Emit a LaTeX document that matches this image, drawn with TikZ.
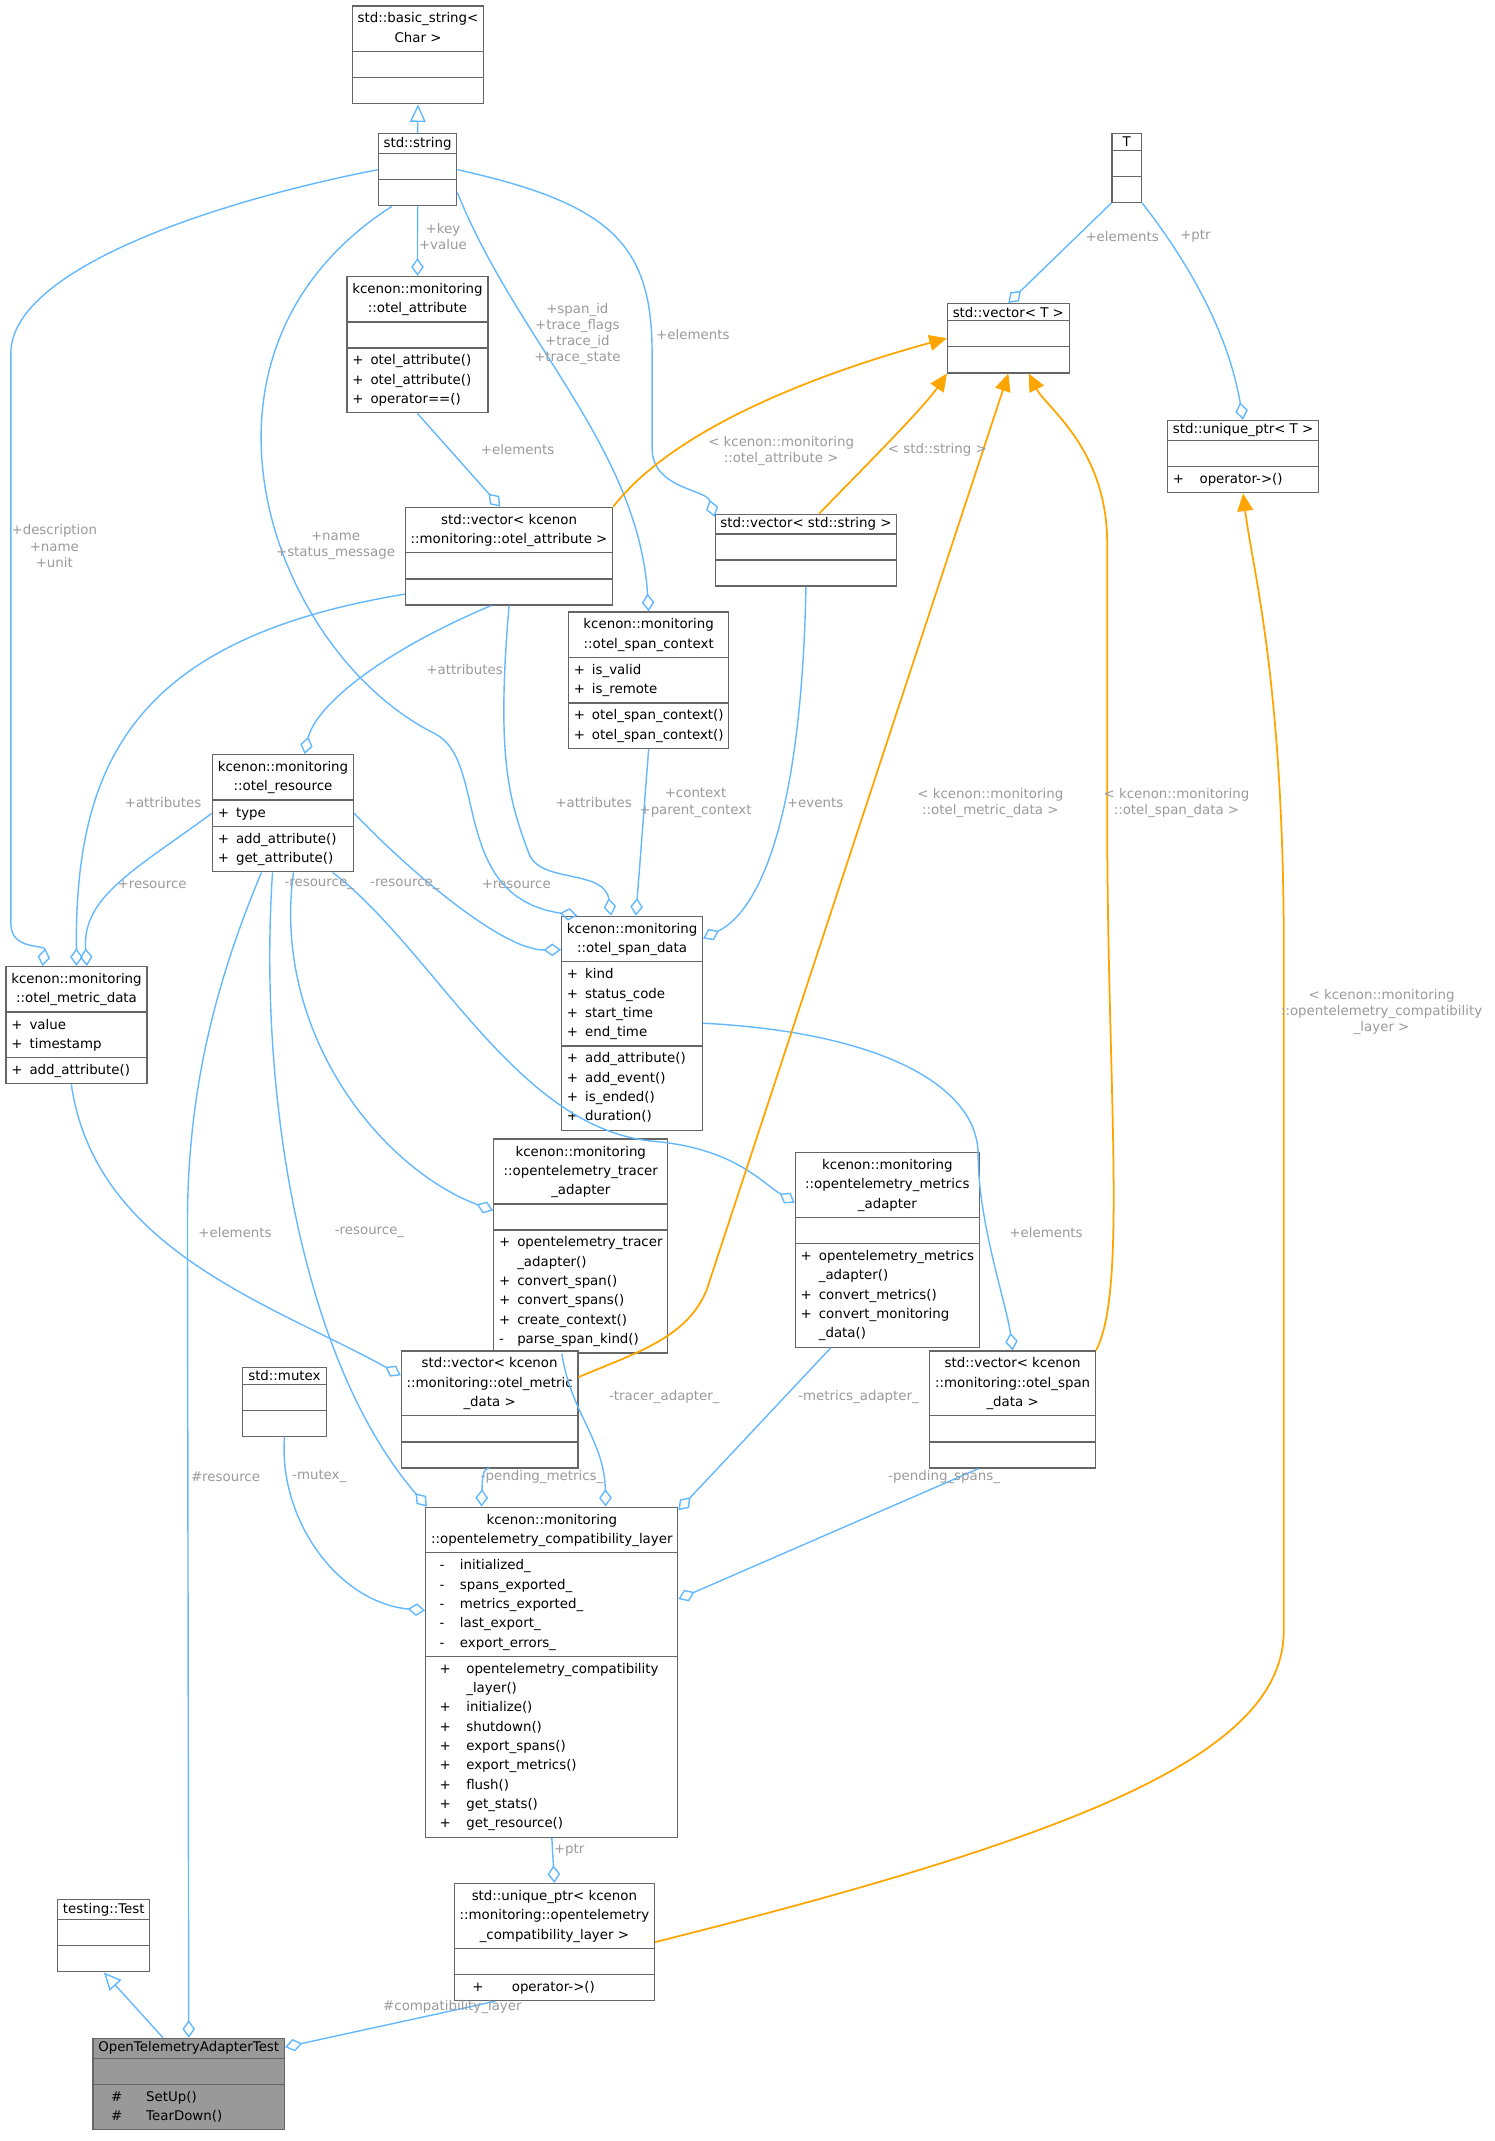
\documentclass[tikz,border=0pt]{standalone}
\usepackage{fontspec}
\setmainfont{DejaVu Sans}
\usetikzlibrary{arrows.meta, shapes.multipart}
\definecolor{linkblue}{HTML}{63B8FF}
\definecolor{lblgray}{HTML}{9A9A9A}
\definecolor{instorange}{HTML}{FFA500}
\newcommand{\ttl}[1]{\begin{tabular}{@{}c@{}}#1\end{tabular}}
\newcommand{\mem}[1]{\begin{tabular}{@{}l@{\hspace{2pt}}l@{}}#1\end{tabular}}
\begin{document}
\begin{tikzpicture} [x=0.01358cm, y=-0.01358cm,
  cls/.style={draw=black!60, fill=white, rectangle split, rectangle split parts=3,
    rectangle split part align={center,left,left}, anchor=north west,
    inner xsep=1.5pt, inner ysep=0.8pt, rectangle split empty part height=2.4pt,
    font=\fontsize{3.8}{5.5}\selectfont, line width=0.35pt},
  agg/.style={draw=linkblue, line width=0.4pt, -{Diamond[open,length=5pt,width=3.6pt]}},
  inh/.style={draw=linkblue, line width=0.4pt, -{Triangle[open,length=5pt,width=4.5pt]}},
  inst/.style={draw=instorange, line width=0.5pt, -{Triangle[length=5pt,width=4.5pt]}},
  lbl/.style={text=lblgray, align=center, font=\fontsize{3.8}{4.6}\selectfont}]
\useasboundingbox (0,0) rectangle (1100,1576);

\node (bstr) [cls, minimum width=1.29cm] at (259,4) {\ttl{std::basic\_string<\\Char >}\nodepart{two}\nodepart{three}};
\node (str) [cls, minimum width=0.76cm] at (278,98) {std::string\nodepart{two}\nodepart{three}};
\node (tpar) [cls, minimum width=0.22cm] at (818,98) {T\nodepart{two}\nodepart{three}};
\node (vecT) [cls, minimum width=1.2cm] at (697,223) {std::vector< T >\nodepart{two}\nodepart{three}};
\node (uptrT) [cls, minimum width=1.48cm] at (859,309) {std::unique\_ptr< T >\nodepart{two}\nodepart{three}\mem{+ & \ \ operator->()}};
\node (attr) [cls, minimum width=1.4cm] at (255,203) {\ttl{kcenon::monitoring\\::otel\_attribute}\nodepart{two}\nodepart{three}\mem{+ & otel\_attribute()\\+ & otel\_attribute()\\+ & operator==()}};
\node (vecattr) [cls, minimum width=2.02cm] at (298,373) {\ttl{std::vector< kcenon\\::monitoring::otel\_attribute >}\nodepart{two}\nodepart{three}};
\node (vecstr) [cls, minimum width=1.77cm] at (526,378) {std::vector< std::string >\nodepart{two}\nodepart{three}};
\node (spanctx) [cls, minimum width=1.56cm] at (418,450) {\ttl{kcenon::monitoring\\::otel\_span\_context}\nodepart{two}\mem{+ & is\_valid\\+ & is\_remote}\nodepart{three}\mem{+ & otel\_span\_context()\\+ & otel\_span\_context()}};
\node (resource) [cls, minimum width=1.39cm] at (156,555) {\ttl{kcenon::monitoring\\::otel\_resource}\nodepart{two}\mem{+ & type}\nodepart{three}\mem{+ & add\_attribute()\\+ & get\_attribute()}};
\node (metric) [cls, minimum width=1.39cm] at (4,711) {\ttl{kcenon::monitoring\\::otel\_metric\_data}\nodepart{two}\mem{+ & value\\+ & timestamp}\nodepart{three}\mem{+ & add\_attribute()}};
\node (span) [cls, minimum width=1.39cm] at (413,674) {\ttl{kcenon::monitoring\\::otel\_span\_data}\nodepart{two}\mem{+ & kind\\+ & status\_code\\+ & start\_time\\+ & end\_time}\nodepart{three}\mem{+ & add\_attribute()\\+ & add\_event()\\+ & is\_ended()\\+ & duration()}};
\node (tracer) [cls, minimum width=1.67cm] at (363,838) {\ttl{kcenon::monitoring\\::opentelemetry\_tracer\\\_adapter}\nodepart{two}\nodepart{three}\mem{+ & opentelemetry\_tracer\\ & \_adapter()\\+ & convert\_span()\\+ & convert\_spans()\\+ & create\_context()\\- & parse\_span\_kind()}};
\node (metricsad) [cls, minimum width=1.81cm] at (585,848) {\ttl{kcenon::monitoring\\::opentelemetry\_metrics\\\_adapter}\nodepart{two}\nodepart{three}\mem{+ & opentelemetry\_metrics\\ & \_adapter()\\+ & convert\_metrics()\\+ & convert\_monitoring\\ & \_data()}};
\node (vecmetric) [cls, minimum width=1.74cm] at (295,994) {\ttl{std::vector< kcenon\\::monitoring::otel\_metric\\\_data >}\nodepart{two}\nodepart{three}};
\node (mutex) [cls, minimum width=0.84cm] at (178,1006) {std::mutex\nodepart{two}\nodepart{three}};
\node (vecspan) [cls, minimum width=1.63cm] at (684,994) {\ttl{std::vector< kcenon\\::monitoring::otel\_span\\\_data >}\nodepart{two}\nodepart{three}};
\node (compat) [cls, minimum width=2.5cm] at (313,1109) {\ttl{kcenon::monitoring\\::opentelemetry\_compatibility\_layer}\nodepart{two}\mem{\ \ - & \ \ initialized\_\\\ \ - & \ \ spans\_exported\_\\\ \ - & \ \ metrics\_exported\_\\\ \ - & \ \ last\_export\_\\\ \ - & \ \ export\_errors\_}\nodepart{three}\mem{\ \ + & \ \ opentelemetry\_compatibility\\ & \ \ \_layer()\\\ \ + & \ \ initialize()\\\ \ + & \ \ shutdown()\\\ \ + & \ \ export\_spans()\\\ \ + & \ \ export\_metrics()\\\ \ + & \ \ flush()\\\ \ + & \ \ get\_stats()\\\ \ + & \ \ get\_resource()}};
\node (uptrc) [cls, minimum width=1.96cm] at (334,1386) {\ttl{std::unique\_ptr< kcenon\\::monitoring::opentelemetry\\\_compatibility\_layer >}\nodepart{two}\nodepart{three}\mem{\ \ \ + & \ \ \ \ \ operator->()}};
\node (ttest) [cls, minimum width=0.92cm] at (42,1398) {testing::Test\nodepart{two}\nodepart{three}};
\node (oat) [cls, minimum width=1.9cm, fill=black!40] at (68,1500) {OpenTelemetryAdapterTest\nodepart{two}\nodepart{three}\mem{\ \ \ \# & \ \ \ \ SetUp()\\\ \ \ \# & \ \ \ \ TearDown()}};

% inheritance
\draw [inh] (str.north) -- (bstr.south);
\draw [inh] (oat.119) -- (ttest.south);

% members
\draw [agg] (str.south) -- (attr.north);
\draw [agg] (str.west) .. controls (150,150) and (8,200) .. (8,260) -- (8,680) .. controls (8,700) and (34,695) .. (metric.120);
\draw [agg] (str.235) .. controls (120,260) and (200,480) .. (320,540) .. controls (360,560) and (330,660) .. (span.117);
\draw [agg] (str.-30) .. controls (380,250) and (470,330) .. (spanctx.north);
\draw [agg] (str.east) .. controls (450,150) and (480,180) .. (480,260) -- (480,330) .. controls (480,360) and (520,360) .. (vecstr.160);
\draw [agg] (tpar.south west) -- (vecT.north);
\draw [agg] (tpar.south east) .. controls (880,200) and (905,250) .. (uptrT.north);
\draw [agg] (attr.south) -- (vecattr.100);
\draw [agg] (vecattr.250) .. controls (280,480) and (232,520) .. (resource.70);
\draw [agg] (vecattr.200) .. controls (100,470) and (55,560) .. (metric.north);
\draw [agg] (vecattr.south) .. controls (365,560) and (375,590) .. (390,630) .. controls (400,650) and (445,640) .. (span.101);
\draw [agg] (spanctx.south) -- (span.88);
\draw [agg] (vecstr.south) .. controls (590,600) and (560,670) .. (span.50);
\draw [agg] (resource.west) .. controls (100,640) and (60,660) .. (metric.80);
\draw [agg] (resource.east) .. controls (300,640) and (370,700) .. (span.134);
\draw [agg] (resource.-80) .. controls (200,760) and (280,860) .. (tracer.158);
\draw [agg] (resource.-50) .. controls (320,700) and (380,830) .. (480,840) .. controls (540,845) and (560,870) .. (metricsad.153);
\draw [agg] (resource.-100) .. controls (190,800) and (220,1000) .. (compat.127);
\draw [agg] (resource.250) .. controls (160,720) and (138,800) .. (138,900) -- (oat.north);
\draw [agg] (metric.-95) .. controls (70,920) and (200,960) .. (vecmetric.159);
\draw [agg] (span.east) .. controls (650,760) and (720,800) .. (720,850) .. controls (720,900) and (741,960) .. (vecspan.north);
\draw [agg] (tracer.-100) .. controls (420,1040) and (445,1060) .. (compat.72);
\draw [agg] (metricsad.240) -- (compat.52);
\draw [agg] (vecmetric.south) .. controls (355,1080) and (355,1090) .. (compat.113);
\draw [agg] (mutex.south) .. controls (205,1120) and (250,1180) .. (compat.154);
\draw [agg] (vecspan.240) -- (compat.30);
\draw [agg] (compat.south) -- (uptrc.north);
\draw [agg] (uptrc.225) -- (oat.21);

% template instances
\draw [inst] (vecattr.north east) .. controls (500,310) and (620,270) .. (vecT.west);
\draw [inst] (vecstr.70) .. controls (640,340) and (680,300) .. (vecT.south west);
\draw [inst] (vecmetric.20) .. controls (470,995) and (505,985) .. (520,950) -- (vecT.south);
\draw [inst] (vecspan.north east) .. controls (830,950) and (815,800) .. (815,600) -- (815,400) .. controls (815,330) and (770,300) .. (vecT.-60);
\draw [inst] (uptrc.east) .. controls (800,1350) and (945,1290) .. (945,1200) -- (945,700) .. controls (945,500) and (922,420) .. (uptrT.south);

% labels
\node (l1) [lbl] at (326,174) {+key\\+value};
\node (l2) [lbl] at (40,402) {+description\\+name\\+unit};
\node (l3) [lbl] at (247,402) {+name\\+status\_message};
\node (l4) [lbl] at (425,246) {+span\_id\\+trace\_flags\\+trace\_id\\+trace\_state};
\node (l5) [lbl] at (510,246) {+elements};
\node (l6) [lbl] at (826,174) {+elements};
\node (l7) [lbl] at (880,174) {+ptr};
\node (l8) [lbl] at (381,331) {+elements};
\node (l9) [lbl] at (575,332) {< kcenon::monitoring\\::otel\_attribute >};
\node (l10) [lbl] at (690,331) {< std::string >};
\node (l11) [lbl] at (342,493) {+attributes};
\node (l12) [lbl] at (120,591) {+attributes};
\node (l13) [lbl] at (437,591) {+attributes};
\node (l14) [lbl] at (512,591) {+context\\+parent\_context};
\node (l15) [lbl] at (600,591) {+events};
\node (l16) [lbl] at (729,591) {< kcenon::monitoring\\::otel\_metric\_data >};
\node (l17) [lbl] at (866,591) {< kcenon::monitoring\\::otel\_span\_data >};
\node (l18) [lbl] at (112,651) {+resource};
\node (l19) [lbl] at (235,651) {-resource\_};
\node (l20) [lbl] at (298,651) {-resource\_};
\node (l21) [lbl] at (380,651) {+resource};
\node (l22) [lbl] at (1017,745) {< kcenon::monitoring\\::opentelemetry\_compatibility\\\_layer >};
\node (l23) [lbl] at (173,907) {+elements};
\node (l24) [lbl] at (272,907) {-resource\_};
\node (l25) [lbl] at (770,907) {+elements};
\node (l26) [lbl] at (489,1028) {-tracer\_adapter\_};
\node (l27) [lbl] at (632,1028) {-metrics\_adapter\_};
\node (l28) [lbl] at (166,1087) {\#resource};
\node (l29) [lbl] at (235,1087) {-mutex\_};
\node (l30) [lbl] at (399,1087) {-pending\_metrics\_};
\node (l31) [lbl] at (695,1087) {-pending\_spans\_};
\node (l32) [lbl] at (419,1362) {+ptr};
\node (l33) [lbl] at (333,1477) {\#compatibility\_layer};
\end{tikzpicture}
\end{document}
